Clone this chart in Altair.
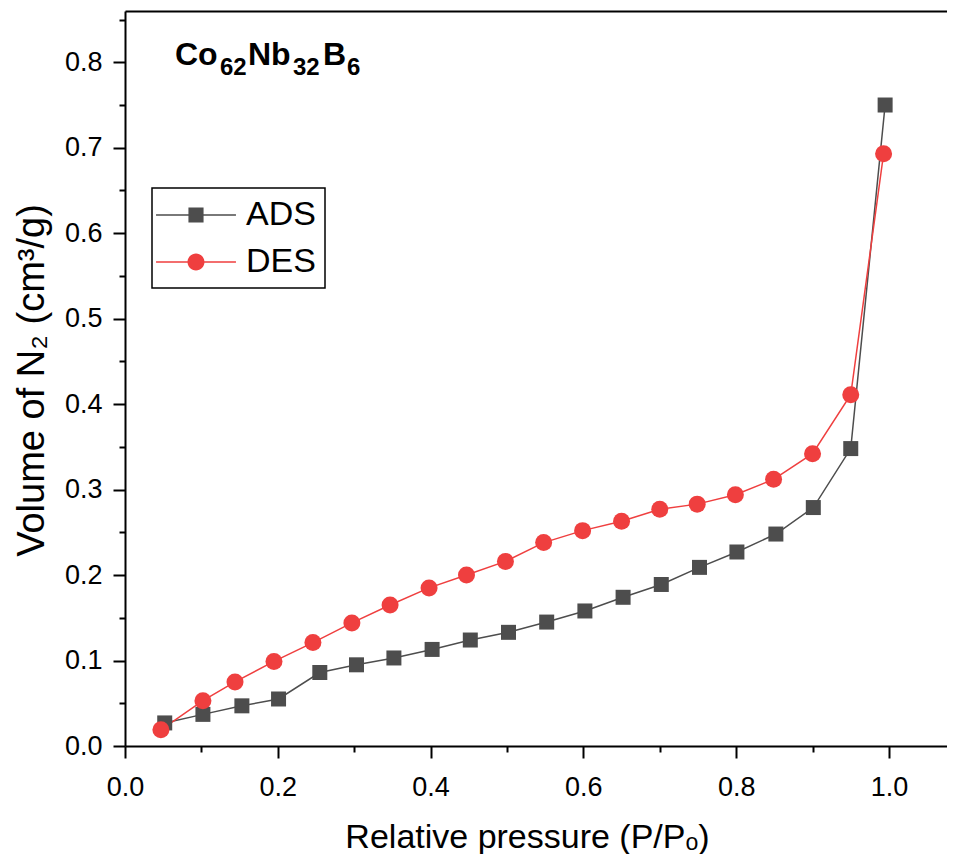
import altair as alt
import pandas as pd

# ---- data ----
ads_x = [0.052, 0.102, 0.153, 0.201, 0.255, 0.303, 0.352, 0.402, 0.452, 0.502,
         0.552, 0.602, 0.652, 0.702, 0.752, 0.801, 0.852, 0.901, 0.950, 0.995]
ads_y = [0.027, 0.037, 0.047, 0.055, 0.086, 0.095, 0.103, 0.113, 0.124, 0.133,
         0.145, 0.158, 0.174, 0.189, 0.209, 0.227, 0.248, 0.279, 0.348, 0.750]
des_x = [0.047, 0.102, 0.144, 0.195, 0.246, 0.297, 0.347, 0.398, 0.447, 0.498,
         0.548, 0.599, 0.650, 0.700, 0.749, 0.799, 0.849, 0.900, 0.950, 0.993]
des_y = [0.019, 0.053, 0.075, 0.099, 0.121, 0.144, 0.165, 0.185, 0.200, 0.216,
         0.238, 0.252, 0.263, 0.277, 0.283, 0.294, 0.312, 0.342, 0.411, 0.693]
series_names = ["ADS", "DES"]
x_major = [0.0, 0.2, 0.4, 0.6, 0.8, 1.0]
x_minor = [0.1, 0.3, 0.5, 0.7, 0.9]
y_major = [0.0, 0.1, 0.2, 0.3, 0.4, 0.5, 0.6, 0.7, 0.8]
y_minor = [0.05, 0.15, 0.25, 0.35, 0.45, 0.55, 0.65, 0.75, 0.85]
# sample label "Co62Nb32B6": element symbols and their subscripts
label_elements = ["Co", "Nb", "B"]
label_subscripts = ["62", "32", "6"]
x_title = "Relative pressure (P/P\u2092)"
y_title = "Volume of N\u2082 (cm\u00b3/g)"

df = pd.DataFrame({
    "x": ads_x + des_x,
    "y": ads_y + des_y,
    "series": ["ADS"] * len(ads_x) + ["DES"] * len(des_x),
})

FONT = "Liberation Sans"
C_ADS = "#4d4d4d"
C_DES = "#ef3f3f"

xscale = alt.Scale(domain=[0, 1.076], nice=False, zero=False)
yscale = alt.Scale(domain=[0, 0.86], nice=False, zero=False)
cscale = alt.Scale(domain=series_names, range=[C_ADS, C_DES])

# legend symbol paths: line + marker
PATH_ADS = ("M-2.22,-0.04H2.22V0.04H-2.22Z "
            "M-0.42,-0.42H0.42V0.42H-0.42Z")
PATH_DES = ("M-2.22,-0.04H2.22V0.04H-2.22Z "
            "M0.47,0A0.47,0.47 0 1,1 -0.47,0A0.47,0.47 0 1,1 0.47,0Z")

ax_x_major = alt.Axis(orient="bottom", values=x_major, format=".1f", grid=False,
                      tickSize=12, tickWidth=2, tickColor="black",
                      domainColor="black", domainWidth=2,
                      labelFont=FONT, labelFontSize=27, labelColor="black",
                      labelPadding=16, labelFlush=False, labelOverlap=False,
                      title=x_title, titleFont=FONT, titleFontSize=34,
                      titleFontWeight="normal", titleColor="black",
                      titleX=402, titleY=101, titleAlign="center",
                      titleBaseline="alphabetic")
ax_y_major = alt.Axis(orient="left", values=y_major, format=".1f", grid=False,
                      tickSize=12, tickWidth=2, tickColor="black",
                      domainColor="black", domainWidth=2,
                      labelFont=FONT, labelFontSize=27, labelColor="black",
                      labelPadding=11, labelFlush=False, labelOverlap=False,
                      title=y_title, titleFont=FONT, titleFontSize=38,
                      titleFontWeight="normal", titleColor="black",
                      titleX=-82, titleY=369, titleAlign="center",
                      titleBaseline="alphabetic", titleAngle=270)
ax_x_minor = alt.Axis(orient="bottom", values=x_minor, labels=False, grid=False,
                      tickSize=6, tickWidth=2, tickColor="black", domain=False,
                      title=None)
ax_y_minor = alt.Axis(orient="left", values=y_minor, labels=False, grid=False,
                      tickSize=6, tickWidth=2, tickColor="black", domain=False,
                      title=None)
ax_x_top = alt.Axis(orient="top", labels=False, ticks=False, grid=False,
                    domainColor="black", domainWidth=2, title=None)

lines = alt.Chart(df).mark_line(strokeWidth=1.5).encode(
    x=alt.X("x:Q", scale=xscale, axis=ax_x_major),
    y=alt.Y("y:Q", scale=yscale, axis=ax_y_major),
    color=alt.Color("series:N", scale=cscale, legend=None),
    detail="series:N",
)

points = alt.Chart(df).mark_point(filled=True, opacity=1).encode(
    x=alt.X("x:Q", scale=xscale, axis=ax_x_minor),
    y=alt.Y("y:Q", scale=yscale, axis=ax_y_minor),
    color=alt.Color("series:N", scale=cscale, legend=None),
    shape=alt.Shape("series:N", scale=alt.Scale(domain=series_names, range=["square", "circle"]), legend=None),
    size=alt.Size("series:N", scale=alt.Scale(domain=series_names, range=[225, 289]), legend=None),
)

leg = alt.Legend(
    title=None, orient="none", legendX=27, legendY=177,
    padding=9, strokeColor="black", symbolSize=1296,
    symbolOffset=17, labelOffset=32, rowPadding=12,
    symbolOpacity=1, symbolStrokeWidth=0,
    labelFont=FONT, labelFontSize=34, labelColor="black",
)

legend_layer = alt.Chart(df).mark_point(filled=True, opacity=0).encode(
    x=alt.X("x:Q", scale=xscale, axis=ax_x_top),
    y=alt.Y("y:Q", scale=yscale, axis=None),
    color=alt.Color("series:N", scale=cscale, legend=leg),
    shape=alt.Shape(
        "series:N",
        scale=alt.Scale(domain=series_names, range=[PATH_ADS, PATH_DES]),
        legend=leg,
    ),
)

# sample label built from pieces: main text and lowered smaller subscripts
elem_x = [50, 123, 198]
sub_x = [95, 168, 222]
label_layers = []
for txt, px in zip(label_elements, elem_x):
    label_layers.append(
        alt.Chart(pd.DataFrame({"t": [txt]})).mark_text(
            font=FONT, fontSize=32, fontWeight="bold", align="left",
            baseline="alphabetic", color="black",
        ).encode(x=alt.value(px), y=alt.value(54), text="t:N")
    )
for txt, px in zip(label_subscripts, sub_x):
    label_layers.append(
        alt.Chart(pd.DataFrame({"t": [txt]})).mark_text(
            font=FONT, fontSize=24, fontWeight="bold", align="left",
            baseline="alphabetic", color="black",
        ).encode(x=alt.value(px), y=alt.value(64), text="t:N")
    )

chart = alt.layer(lines, points, legend_layer, *label_layers).resolve_scale(
    shape="independent", color="independent"
).resolve_axis(
    x="independent", y="independent"
).properties(
    width=822, height=735,
    autosize=alt.AutoSizeParams(type="none"),
    padding={"left": 117, "top": 3, "right": 0, "bottom": 108},
    background="white",
).configure_view(stroke=None).configure_legend(strokeWidth=1.5)

chart.save("out.html", embed_options={"renderer": "svg", "actions": False})
